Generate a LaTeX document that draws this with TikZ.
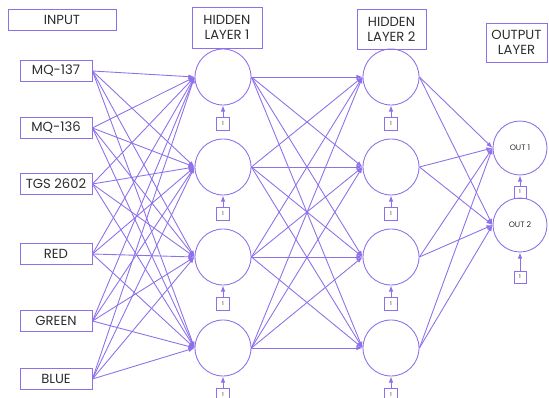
\documentclass[tikz,border=0pt]{standalone}
\usepackage{fontspec}
\setmainfont{Poppins}
\usetikzlibrary{arrows.meta}
\definecolor{nnline}{RGB}{142,112,232}
\definecolor{nntext}{RGB}{45,45,45}

\begin{document}
\begin{tikzpicture}[x=0.2mm, y=-0.2mm, >={Latex[length=3.5pt,width=2.6pt]}, line width=0.5pt]
% one unit = one pixel of the 549x398 sketch, y grows downwards

\tikzstyle{nnbox}=[align=center,draw=nnline,text=nntext,minimum width=14.4mm,
minimum height=4.2mm,inner sep=0pt,font=\fontsize{7.5}{8.5}\selectfont]
\tikzstyle{nnneuron}=[shape=circle,draw=nnline,minimum size=11.2mm,inner sep=0pt,
text=nntext,font=\fontsize{4.5}{5}\selectfont]
\tikzstyle{nnbias}=[draw=nnline,minimum size=2.6mm,inner sep=0pt,text=nntext,
font=\fontsize{3}{3}\selectfont]
\tikzstyle{nnedge}=[->,draw=nnline]

\useasboundingbox (0,0) rectangle (549,398);

% layer titles
\node[nnbox,minimum width=21.6mm] (input) at (62,20) {INPUT};
\node[nnbox,minimum width=14mm,minimum height=8.2mm] (hidden1) at (227,27.5) {HIDDEN\\LAYER 1};
\node[nnbox,minimum width=13.8mm,minimum height=8mm] (hidden2) at (391.5,29) {HIDDEN\\LAYER 2};
\node[nnbox,minimum width=12.2mm,minimum height=7.8mm] (output) at (516.5,42.5) {OUTPUT\\LAYER};

% inputs
\foreach \name/\y/\txt in {in1/71/MQ-137,in2/128/MQ-136,in3/184/TGS 2602,
	in5/254/RED,in6/321/GREEN,in7/379/BLUE}
	\node[nnbox] (\name) at (56,\y) {\txt};

% hidden layers with their bias
\foreach \i/\y in {1/77,2/167,3/257,4/348} {
	\node[nnneuron] (ha\i) at (223,\y) {};
	\node[nnbias] (ba\i) at (223,\y+47) {1};
	\node[nnneuron] (hb\i) at (391,\y) {};
	\node[nnbias] (bb\i) at (391,\y+47) {1};
	\draw[nnedge] (ba\i) -- (ha\i);
	\draw[nnedge] (bb\i) -- (hb\i);
}

% outputs
\node[nnneuron,minimum size=10.8mm] (out1) at (520,148) {OUT 1};
\node[nnbias,minimum size=2.4mm] (bo1) at (520,192) {1};
\node[nnneuron,minimum size=10.8mm] (out2) at (520,225) {OUT 2};
\node[nnbias,minimum size=2.4mm] (bo2) at (520,277) {1};
\draw[nnedge] (bo1) -- (out1);
\draw[nnedge] (bo2) -- (out2);

% weights
\foreach \i in {in1,in2,in3,in5,in6,in7}
	\foreach \j in {1,...,4}
		\draw[nnedge] (\i.east) -- (ha\j.west);
\foreach \i in {1,...,4} {
	\foreach \j in {1,...,4}
		\draw[nnedge] (ha\i.east) -- (hb\j.west);
	\foreach \j in {1,2}
		\draw[nnedge] (hb\i.east) -- (out\j.west);
}
\end{tikzpicture}
\end{document}
